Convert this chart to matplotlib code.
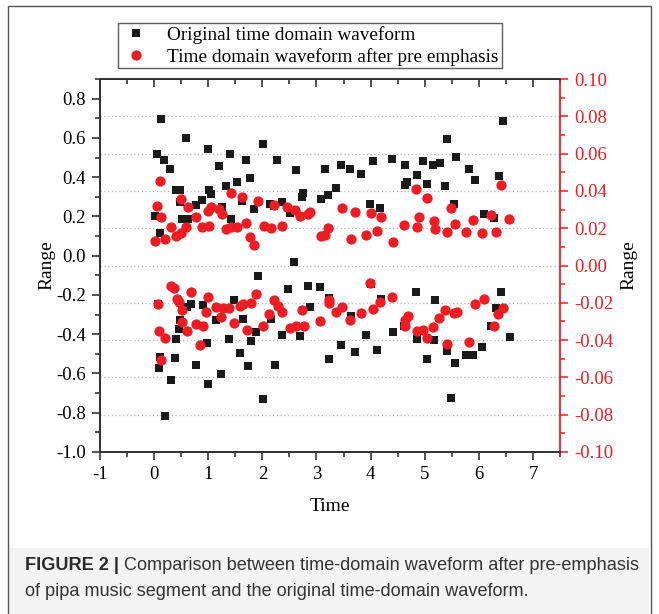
import matplotlib.pyplot as plt
from matplotlib.patches import Rectangle
from matplotlib.ticker import MultipleLocator, FuncFormatter
from matplotlib.lines import Line2D
from matplotlib.transforms import blended_transform_factory

# original waveform (left axis)
orig_time = [0.02, 0.05, 0.11, 0.12, 0.185, 0.30, 0.41, 0.48, 0.48, 0.51, 0.59, 0.62, 0.78, 0.88,
             0.99, 1.01, 1.05, 1.19, 1.25, 1.32, 1.41, 1.42, 1.54, 1.63, 1.69, 1.77, 1.85, 2.02,
             2.15, 2.21, 2.27, 2.36, 2.51, 2.59, 2.63, 2.73, 2.76, 3.09, 3.16, 3.21, 3.37, 3.45,
             3.62, 3.83, 3.98, 4.05, 4.17, 4.40, 4.64, 4.63, 4.68, 4.86, 4.96, 5.05, 5.16, 5.28,
             5.38, 5.41, 5.54, 5.58, 5.81, 5.93, 6.10, 6.28, 6.37, 6.44,
             0.07, 0.09, 0.11, 0.21, 0.32, 0.38, 0.41, 0.46, 0.48, 0.61, 0.68, 0.78, 0.91, 0.98,
             1.00, 1.14, 1.24, 1.39, 1.47, 1.59, 1.64, 1.73, 1.79, 1.88, 1.92, 2.02, 2.16, 2.23,
             2.37, 2.47, 2.70, 2.84, 2.88, 3.07, 3.23, 3.24, 3.45, 3.63, 3.72, 3.91, 4.01, 4.11,
             4.19, 4.41, 4.62, 4.83, 4.86, 5.05, 5.17, 5.19, 5.42, 5.48, 5.56, 5.77, 5.89, 6.06,
             6.23, 6.31, 6.41, 6.57]
orig_range = [0.20, 0.52, 0.116, 0.694, 0.486, 0.44, 0.333, 0.333, 0.272, 0.187, 0.602, 0.187, 0.259, 0.286,
              0.541, 0.333, 0.316, 0.459, 0.248, 0.354, 0.52, 0.187, 0.376, 0.279, 0.486, 0.396, 0.238, 0.571,
              0.265, 0.252, 0.486, 0.276, 0.218, -0.034, 0.439, 0.30, 0.32, 0.289, 0.442, 0.311, 0.345, 0.462,
              0.442, 0.415, 0.265, 0.483, 0.241, 0.493, 0.462, 0.36, 0.377, 0.41, 0.483, 0.367, 0.462, 0.473,
              0.357, 0.592, 0.262, 0.503, 0.442, 0.384, 0.214, 0.19, 0.408, 0.687,
              -0.245, -0.571, -0.517, -0.816, -0.633, -0.52, -0.425, -0.371, -0.327, -0.259, -0.245, -0.558, -0.252, -0.446,
              -0.653, -0.327, -0.602, -0.422, -0.228, -0.497, -0.32, -0.561, -0.435, -0.389, -0.106, -0.728, -0.325, -0.556,
              -0.405, -0.170, -0.408, -0.156, -0.262, -0.16, -0.524, -0.218, -0.456, -0.306, -0.49, -0.405, -0.146, -0.48,
              -0.223, -0.388, -0.357, -0.184, -0.422, -0.527, -0.432, -0.224, -0.486, -0.724, -0.547, -0.507, -0.507, -0.466,
              -0.357, -0.268, -0.184, -0.412]

# waveform after pre emphasis (right axis)
emph_time = [0.02, 0.06, 0.11, 0.12, 0.20, 0.31, 0.41, 0.49, 0.49, 0.59, 0.62, 0.78, 0.89, 0.99,
             1.02, 1.06, 1.19, 1.25, 1.33, 1.42, 1.42, 1.53, 1.63, 1.69, 1.77, 1.85, 1.92, 2.03,
             2.16, 2.22, 2.37, 2.46, 2.61, 2.70, 2.85, 2.88, 3.09, 3.16, 3.21, 3.47, 3.63, 3.72,
             3.91, 4.01, 4.11, 4.19, 4.41, 4.62, 4.83, 4.86, 4.89, 5.04, 5.17, 5.19, 5.42, 5.48,
             5.56, 5.77, 5.90, 6.06, 6.23, 6.31, 6.41, 6.56,
             0.07, 0.09, 0.12, 0.21, 0.31, 0.37, 0.42, 0.46, 0.51, 0.52, 0.61, 0.68, 0.78, 0.85,
             0.90, 0.96, 1.00, 1.14, 1.24, 1.28, 1.39, 1.48, 1.59, 1.64, 1.72, 1.79, 1.88, 2.02,
             2.13, 2.22, 2.28, 2.37, 2.51, 2.63, 2.73, 2.77, 3.07, 3.23, 3.24, 3.36, 3.48, 3.62,
             3.83, 3.98, 4.04, 4.17, 4.39, 4.63, 4.64, 4.69, 4.86, 4.96, 5.05, 5.16, 5.27, 5.37,
             5.41, 5.54, 5.59, 5.81, 5.93, 6.10, 6.28, 6.36, 6.44]
emph_range = [0.013, 0.0319, 0.0451, 0.0262, 0.0144, 0.0209, 0.0159, 0.0173, 0.0358, 0.0209, 0.0312, 0.0258, 0.0209, 0.0294,
              0.0214, 0.0312, 0.0305, 0.0276, 0.0194, 0.0209, 0.039, 0.0209, 0.0365, 0.0226, 0.0155, 0.0112, 0.0348, 0.0212,
              0.020, 0.0326, 0.0212, 0.0312, 0.0298, 0.0266, 0.0276, 0.0287, 0.0159, 0.0162, 0.0202, 0.0309, 0.0141, 0.0287,
              0.0162, 0.0283, 0.0187, 0.0262, 0.0127, 0.0219, 0.0408, 0.0205, 0.0258, 0.0362, 0.0241, 0.0198, 0.018, 0.0309,
              0.0223, 0.018, 0.0244, 0.0173, 0.0273, 0.018, 0.0429, 0.0248,
              -0.0205, -0.0351, -0.0508, -0.0387, -0.0109, -0.0119, -0.018, -0.0198, -0.0305, -0.0241, -0.0351, -0.0144, -0.0312, -0.0428,
              -0.0323, -0.0251, -0.0169, -0.0223, -0.0276, -0.0226, -0.023, -0.0308, -0.0216, -0.0205, -0.0348, -0.0201, -0.0155, -0.0326,
              -0.0262, -0.0187, -0.0219, -0.0248, -0.0333, -0.0326, -0.0241, -0.0326, -0.0298, -0.0187, -0.0201, -0.0248, -0.0223, -0.029,
              -0.0255, -0.0095, -0.0234, -0.0198, -0.0169, -0.029, -0.0326, -0.0269, -0.0351, -0.0348, -0.039, -0.033, -0.0283, -0.0241,
              -0.0419, -0.0255, -0.0251, -0.0408, -0.0209, -0.018, -0.0323, -0.0262, -0.0226]

grid_levels = [-0.08, -0.06, -0.04, -0.02, 0.0, 0.02, 0.04, 0.06, 0.08]
legend_labels = ['Original time domain waveform', 'Time domain waveform after pre emphasis']
caption_bold = 'FIGURE 2 |'
caption_rest = ' Comparison between time-domain waveform after pre-emphasis'
caption_line2 = 'of pipa music segment and the original time-domain waveform.'

black = '#1a1a1a'
red = '#ee1d23'
serif = 'Liberation Serif'

plt.rcParams['font.family'] = serif
plt.rcParams['axes.unicode_minus'] = False


def fmt(decimals):
    # avoid "-0.00" labels
    def f(v, pos):
        s = '%.*f' % (decimals, v)
        if float(s) == 0:
            s = '%.*f' % (decimals, 0.0)
        return s
    return FuncFormatter(f)


fig = plt.figure(figsize=(6.59, 6.14), dpi=100)

# outer frame and caption background
fig.patches.append(Rectangle((10 / 659, 0), 639 / 659, 66 / 614, transform=fig.transFigure,
                             facecolor='#f4f4f4', edgecolor='none', zorder=0))
fig.patches.append(Rectangle((8 / 659, -0.05), 643 / 659, 1.05 - 6 / 614, transform=fig.transFigure,
                             facecolor='none', edgecolor='#555555', linewidth=1.0, zorder=1))

ax = fig.add_axes([100 / 659, 1 - 452 / 614, 460 / 659, 373 / 614])
ax2 = ax.twinx()

# grid at the right axis levels, drawn under the markers
trans = blended_transform_factory(ax.transAxes, ax2.transData)
for g in grid_levels:
    ax.plot([0, 1], [g, g], transform=trans, color='#b5b5b5', linestyle=(0, (1, 2)),
            linewidth=0.9, zorder=0)

ax.plot(orig_time, orig_range, 's', color=black, markersize=5.8, markeredgewidth=0, zorder=3)
ax2.plot(emph_time, emph_range, 'o', color=red, markersize=7.4, markeredgewidth=0, zorder=3)

ax.set_xlim(-1, 7.5)
ax.set_ylim(-1.0, 0.9)
ax2.set_ylim(-0.10, 0.10)

ax.xaxis.set_major_locator(MultipleLocator(1))
ax.xaxis.set_minor_locator(MultipleLocator(0.5))
ax.yaxis.set_major_locator(MultipleLocator(0.2))
ax.yaxis.set_minor_locator(MultipleLocator(0.1))
ax.yaxis.set_major_formatter(fmt(1))
ax2.yaxis.set_major_locator(MultipleLocator(0.02))
ax2.yaxis.set_minor_locator(MultipleLocator(0.01))
ax2.yaxis.set_major_formatter(fmt(2))

ax.tick_params(axis='both', which='major', direction='out', length=6, width=1.1,
               labelsize=13.5, color='#222222', pad=4)
ax.tick_params(axis='both', which='minor', direction='out', length=3.5, width=1.1, color='#222222')
ax.tick_params(axis='y', right=False, which='both')
ax2.tick_params(axis='y', which='major', direction='out', length=6, width=1.1,
                labelsize=13.5, colors=red, pad=4)
ax2.tick_params(axis='y', which='minor', direction='out', length=3.5, width=1.1, colors=red)

# top axis with inward ticks, no labels
top = ax.secondary_xaxis('top')
top.xaxis.set_major_locator(MultipleLocator(1))
top.xaxis.set_minor_locator(MultipleLocator(0.5))
top.tick_params(which='major', direction='in', length=6, width=1.1, labeltop=False, color='#222222')
top.tick_params(which='minor', direction='in', length=3.5, width=1.1, color='#222222')
top.spines['top'].set_linewidth(1.3)
top.spines['top'].set_color('#333333')

for s in ['left', 'bottom', 'top']:
    ax.spines[s].set_linewidth(1.3)
    ax.spines[s].set_color('#333333')
    ax2.spines[s].set_linewidth(1.3)
    ax2.spines[s].set_color('#333333')
ax2.spines['right'].set_color(red)
ax2.spines['right'].set_linewidth(1.3)
ax.spines['right'].set_visible(False)

ax.set_xlabel('Time', fontsize=14, labelpad=11)
ax.set_ylabel('Range', fontsize=14, labelpad=1)
ax2.set_ylabel('Range', fontsize=14, labelpad=5, rotation=90)

handles = [Line2D([], [], marker='s', linestyle='none', color=black, markersize=5.8, markeredgewidth=0),
           Line2D([], [], marker='o', linestyle='none', color=red, markersize=7.4, markeredgewidth=0)]
leg = fig.legend(handles, legend_labels, loc='upper left', bbox_to_anchor=(118 / 659, 1 - 23 / 614),
                 frameon=True, fancybox=False, edgecolor='#333333', fontsize=13.9, borderaxespad=0,
                 borderpad=0.15, labelspacing=0.2, handletextpad=0.8, handlelength=1.6)
leg.get_frame().set_linewidth(1.0)

fig.text(25 / 659, 1 - 566 / 614, caption_bold, fontsize=13.1, fontweight='bold',
         family='Liberation Sans', color='#2a2a2a', va='center')
fig.canvas.draw()
bb = fig.texts[-1].get_window_extent()
x_after = bb.x1 / fig.bbox.width
fig.text(x_after, 1 - 566 / 614, caption_rest, fontsize=13.1, family='Liberation Sans',
         color='#333333', va='center')
fig.text(25 / 659, 1 - 591 / 614, caption_line2, fontsize=13.1, family='Liberation Sans',
         color='#333333', va='center')

fig.savefig('out.png', dpi=100)
